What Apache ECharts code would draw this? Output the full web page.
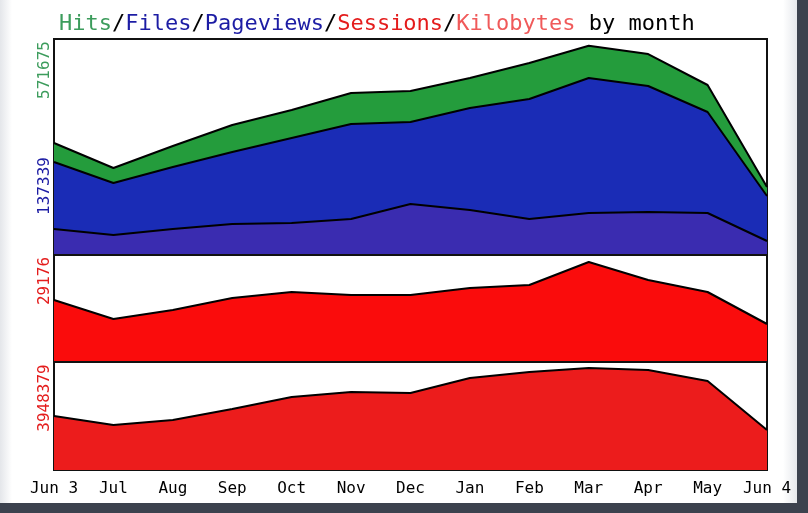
<!DOCTYPE html>
<html><head><meta charset="utf-8">
<script src="https://cdn.jsdelivr.net/npm/echarts@6/dist/echarts.min.js"></script>
<style>html,body{margin:0;padding:0;background:#fff}#c{width:808px;height:513px}</style>
</head><body><div id="c"></div>
<script>
const months = ['Jun 3','Jul','Aug','Sep','Oct','Nov','Dec','Jan','Feb','Mar','Apr','May','Jun 4'];
const hits = [304584,235984,296352,353976,395136,441784,447272,482944,524104,571675,548800,463736,183848];
const files = [252448,194824,238728,279888,318304,356720,362208,400624,425320,482944,460992,389648,159152];
const pageviews = [68600,52136,68600,82320,85064,96040,137339,120736,96040,112504,115248,112504,35672];
const sessions = [17977,12377,15030,18566,20334,19450,19450,21513,22397,29176,23871,20334,10904];
const kilobytes = [2090340,1741950,1935500,2361310,2825830,3019380,2980670,3561320,3793580,3948379,3871000,3445190,1548400];

const mono = "'DejaVu Sans Mono', monospace";
const chart = echarts.init(document.getElementById('c'), null, {renderer:'canvas'});
const maxHits = Math.max(...hits), maxPV = Math.max(...pageviews), maxS = Math.max(...sessions), maxK = Math.max(...kilobytes);

function xa(i, show){
  return {type:'category', gridIndex:i, data:months, boundaryGap:false,
    axisLine:{show:false}, axisTick:{show:false}, splitLine:{show:false},
    axisLabel:{show:show, color:'#000', fontFamily:mono, fontSize:16, margin:11, interval:0}};
}
function ya(i, max){
  return {type:'value', gridIndex:i, min:0, max:max, axisLine:{show:false}, axisTick:{show:false},
    splitLine:{show:false}, axisLabel:{show:false}};
}
function area(name, data, xi, color){
  return {name, type:'line', xAxisIndex:xi, yAxisIndex:xi, data, symbol:'none', smooth:false,
    lineStyle:{color:'#000', width:2}, areaStyle:{color, opacity:1}, z:2, silent:true};
}
const gridBase = {left:54, right:41, show:true, backgroundColor:'#fff', borderColor:'#111', borderWidth:2};
chart.setOption({
  animation:false,
  backgroundColor:'#fff',
  title:{left:54, top:8, text:'{h|Hits}{k|/}{f|Files}{k|/}{p|Pageviews}{k|/}{s|Sessions}{k|/}{kb|Kilobytes}{k| by month}',
    textStyle:{fontFamily:mono, fontSize:22, fontWeight:'normal',
      rich:{h:{color:'#3c9c5c',fontFamily:mono,fontSize:22}, f:{color:'#1c1ca4',fontFamily:mono,fontSize:22},
        p:{color:'#1c1ca4',fontFamily:mono,fontSize:22}, s:{color:'#e41c1c',fontFamily:mono,fontSize:22},
        kb:{color:'#f05a5a',fontFamily:mono,fontSize:22}, k:{color:'#000',fontFamily:mono,fontSize:22}}}},
  grid:[
    Object.assign({top:39, height:215}, gridBase),
    Object.assign({top:255, height:106}, gridBase),
    Object.assign({top:362, height:108}, gridBase)
  ],
  xAxis:[xa(0,false), xa(1,false), xa(2,true)],
  yAxis:[ya(0,590000), ya(1,31240), ya(2,4180000)],
  series:[
    area('Hits', hits, 0, '#249c3c'),
    area('Files', files, 0, '#1a2cb6'),
    area('Pageviews', pageviews, 0, '#3a2cb0'),
    area('Sessions', sessions, 1, '#fa0c0c'),
    area('Kilobytes', kilobytes, 2, '#ec1c1c')
  ],
  graphic:[
    {type:'rect', shape:{x:0,y:0,width:12,height:513}, style:{fill:new echarts.graphic.LinearGradient(0,0,1,0,[{offset:0,color:'#e4e6ea'},{offset:1,color:'#ffffff'}])}, silent:true},
    {type:'rect', shape:{x:783,y:0,width:14,height:513}, style:{fill:new echarts.graphic.LinearGradient(0,0,1,0,[{offset:0,color:'#ffffff'},{offset:1,color:'#e6e8ec'}])}, silent:true},
    {type:'rect', shape:{x:797,y:0,width:11,height:513}, style:{fill:'#3c424e'}, silent:true},
    {type:'rect', shape:{x:0,y:503,width:808,height:10}, style:{fill:'#3c424e'}, silent:true},
    {type:'text', x:45, y:70, rotation:Math.PI/2, style:{text:String(maxHits), fill:'#3c9c5c', font:"16px 'DejaVu Sans Mono'", align:'center', verticalAlign:'middle'}},
    {type:'text', x:45, y:186, rotation:Math.PI/2, style:{text:String(maxPV), fill:'#1c1ca4', font:"16px 'DejaVu Sans Mono'", align:'center', verticalAlign:'middle'}},
    {type:'text', x:45, y:281, rotation:Math.PI/2, style:{text:String(maxS), fill:'#e41c1c', font:"16px 'DejaVu Sans Mono'", align:'center', verticalAlign:'middle'}},
    {type:'text', x:45, y:398, rotation:Math.PI/2, style:{text:String(maxK), fill:'#e41c1c', font:"16px 'DejaVu Sans Mono'", align:'center', verticalAlign:'middle'}}
  ]
});
</script></body></html>
